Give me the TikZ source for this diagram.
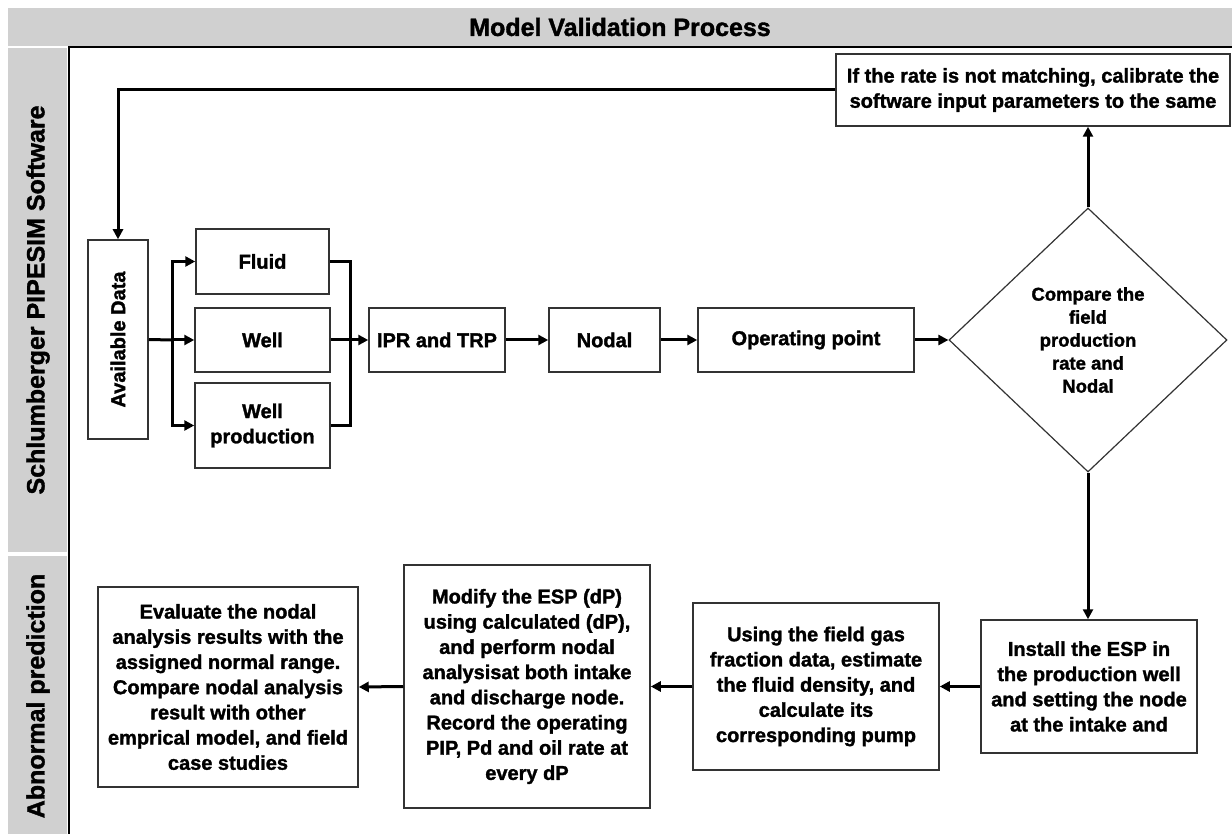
\documentclass[tikz,border=0pt]{standalone}
\usepackage{fontspec}
\setmainfont{Liberation Sans}[BoldFeatures={FakeBold=1.5}]
\usetikzlibrary{arrows.meta,shapes.geometric}
\definecolor{lanegray}{HTML}{D0D0D0}
\definecolor{boxline}{HTML}{333333}
\newcommand\mybodyfont{\fontsize{20}{25.2}\selectfont\bfseries}
\newcommand\mydiafont{\fontsize{18.5}{23}\selectfont\bfseries}
\newcommand\myheadfont{\fontsize{25}{30}\selectfont\bfseries}
\begin{document}
\begin{tikzpicture}[x=1pt,y=-1pt,
  box/.style={draw=boxline, line width=1.5pt, fill=white, align=center, inner sep=0pt, font=\mybodyfont},
  dia/.style={diamond, draw=boxline, line width=1.2pt, fill=white, align=center, inner sep=0pt, font=\mydiafont},
  head/.style={font=\myheadfont},
  thk/.style={line width=3pt},
  arr/.style={line width=3pt, -{Triangle[length=10pt,width=10pt]}}
]
\useasboundingbox (0,0) rectangle (1232,834);
% title bar and lanes
\fill[lanegray] (8,8) rectangle (1232,46);
\node[head] (title) at (620,27) {Model Validation Process};
\fill[lanegray] (8,48) rectangle (67,552);
\fill[lanegray] (8,556) rectangle (67,834);
\node[head, rotate=90] (lane1) at (38,300) {Schlumberger PIPESIM Software};
\node[head, rotate=90] (lane2) at (38,696) {Abnormal prediction};
% frame
\draw[line width=2pt] (69,834) -- (69,47) -- (1232,47);

% top row
\node[box, minimum width=60pt, minimum height=199pt] (avail) at (118,339.5) {\rotatebox{90}{Available Data}};
\node[box, minimum width=133pt, minimum height=65pt] (fluid) at (262.5,261.5) {Fluid};
\node[box, minimum width=135pt, minimum height=64pt] (well) at (262.5,340) {Well};
\node[box, minimum width=135pt, minimum height=85pt] (wellprod) at (262.5,425.5) {Well\\production};
\node[box, minimum width=136pt, minimum height=64pt] (ipr) at (437,340) {IPR and TRP};
\node[box, minimum width=111pt, minimum height=64pt] (nodal) at (604.5,340) {Nodal};
\node[box, minimum width=216pt, minimum height=64pt] (op) at (806,340) {Operating point};
\node[dia, minimum width=278pt, minimum height=264pt] (cmp) at (1088,340) {Compare the\\field\\production\\rate and\\Nodal};
\node[box, minimum width=394pt, minimum height=72pt] (calib) at (1033,90) {If the rate is not matching, calibrate the\\software input parameters to the same};

% bottom row
\node[box, minimum width=216pt, minimum height=133pt] (install) at (1089,686.5) {Install the ESP in\\the production well\\and setting the node\\at the intake and};
\node[box, minimum width=246pt, minimum height=167pt] (using) at (816,686.5) {Using the field gas\\fraction data, estimate\\the fluid density, and\\calculate its\\corresponding pump};
\node[box, minimum width=246pt, minimum height=243pt] (modify) at (527,686.5) {Modify the ESP (dP)\\using calculated (dP),\\and perform nodal\\analysisat both intake\\and discharge node.\\Record the operating\\PIP, Pd and oil rate at\\every dP};
\node[box, minimum width=260pt, minimum height=200pt] (eval) at (228,687) {Evaluate the nodal\\analysis results with the\\assigned normal range.\\Compare nodal analysis\\result with other\\emprical model, and field\\case studies};

% connectors
\coordinate (sp) at (172,340);
\coordinate (mg) at (350,340);
\draw[thk] (avail.east) -- (sp);
\draw[arr] (sp) |- (fluid.west);
\draw[arr] (sp) -- (well.west);
\draw[arr] (sp) |- (wellprod.west);
\draw[thk] (fluid.east) -| (mg);
\draw[thk] (wellprod.east) -| (mg);
\draw[arr] (well.east) -- (ipr.west);
\draw[arr] (ipr.east) -- (nodal.west);
\draw[arr] (nodal.east) -- (op.west);
\draw[arr] (op.east) -- (cmp.west);
\draw[arr] (cmp.north) -- (calib.south -| cmp.north);
\draw[arr] (calib.west) -| (avail.north);
\draw[arr] (cmp.south) -- (install.north -| cmp.south);
\draw[arr] (install.west) -- (using.east);
\draw[arr] (using.west) -- (modify.east);
\draw[arr] (modify.west) -- (eval.east);
\end{tikzpicture}
\end{document}
